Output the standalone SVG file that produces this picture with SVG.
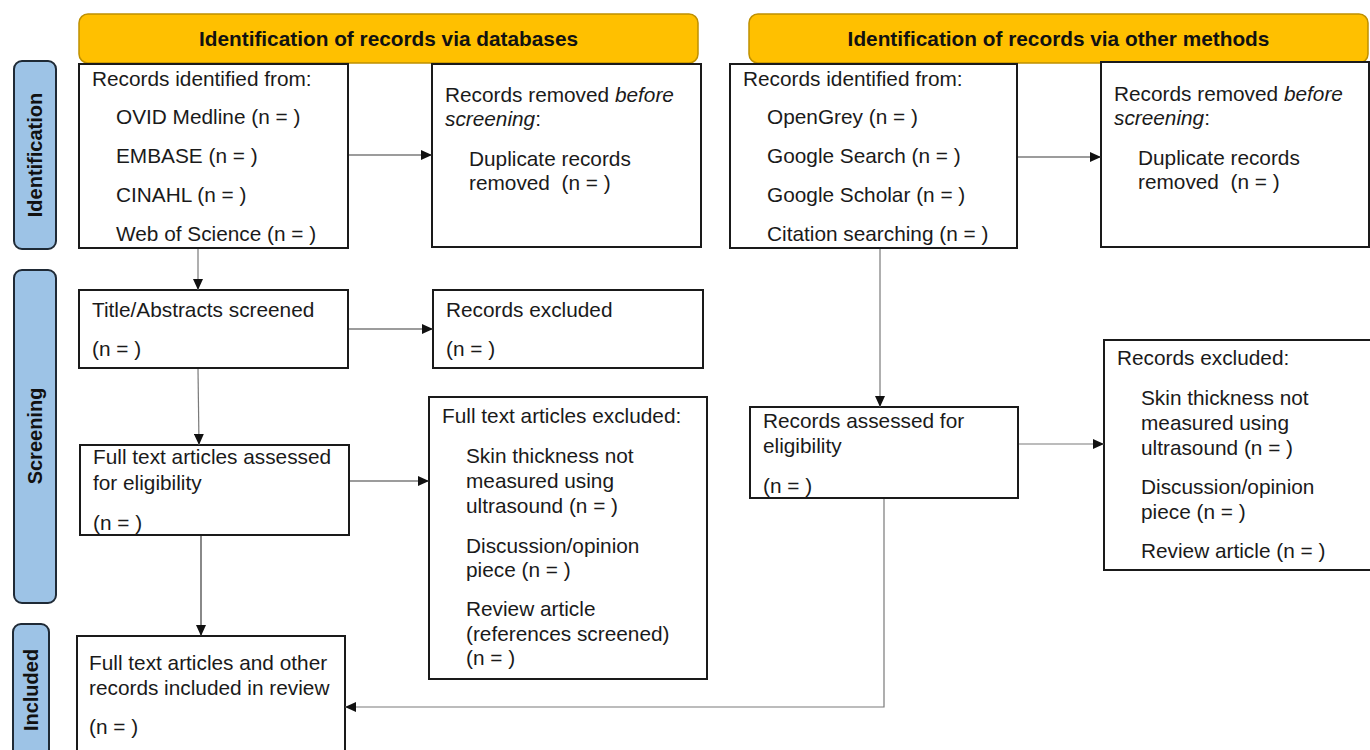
<svg xmlns="http://www.w3.org/2000/svg" width="1370" height="750" viewBox="0 0 1370 750">
<style>
.hdr{fill:#FFC000;stroke:#BF9000;stroke-width:1.5}
.side{fill:#9DC3E6;stroke:#1F2A36;stroke-width:2}
.box{fill:#fff;stroke:#1a1a1a;stroke-width:2}
text{font-family:"Liberation Sans",Arial,sans-serif;fill:#1a1a1a}
.t{font-size:20.8px}
.h{font-size:20.8px;font-weight:bold;text-anchor:middle;fill:#111}
.s{font-size:20px;font-weight:bold;text-anchor:middle;fill:#111}
.c{fill:none;stroke:#3a3a3a;stroke-width:1.2}
.g{fill:none;stroke:#7a7a7a;stroke-width:1.2}
</style>
<defs>
<marker id="ah" markerUnits="userSpaceOnUse" markerWidth="12" markerHeight="10" refX="11" refY="5" orient="auto">
<path d="M0,0 L11,5 L0,10 Z" fill="#111"/>
</marker>
</defs>

<g id="header-databases">
<rect class="hdr" x="79" y="14" width="619" height="49" rx="9"/>
<text class="h" x="388.5" y="46">Identification of records via databases</text>
</g>
<g id="header-other">
<rect class="hdr" x="749" y="14" width="619" height="49" rx="9"/>
<text class="h" x="1058.5" y="46">Identification of records via other methods</text>
</g>

<g id="label-identification">
<rect class="side" x="14" y="61" width="42" height="188" rx="8"/>
<text class="s" transform="translate(42,155) rotate(-90)">Identification</text>
</g>
<g id="label-screening">
<rect class="side" x="14" y="270" width="42" height="333" rx="8"/>
<text class="s" transform="translate(42,436) rotate(-90)">Screening</text>
</g>
<g id="label-included">
<rect class="side" x="13" y="624" width="36" height="146" rx="8"/>
<text class="s" transform="translate(38,690) rotate(-90)">Included</text>
</g>

<g id="db-identified">
<rect class="box" x="79" y="64" width="269" height="184"/>
<text class="t" x="92" y="86">Records identified from:</text>
<text class="t" x="116" y="124">OVID Medline (n = )</text>
<text class="t" x="116" y="163">EMBASE (n = )</text>
<text class="t" x="116" y="202">CINAHL (n = )</text>
<text class="t" x="116" y="241">Web of Science (n = )</text>
</g>
<g id="db-removed">
<rect class="box" x="432" y="64" width="269" height="183"/>
<text class="t" x="445" y="102">Records removed <tspan font-style="italic">before</tspan></text>
<text class="t" x="445" y="126"><tspan font-style="italic">screening</tspan>:</text>
<text class="t" x="469" y="166">Duplicate records</text>
<text class="t" x="469" y="190" xml:space="preserve">removed  (n = )</text>
</g>
<g id="other-identified">
<rect class="box" x="730" y="64" width="287" height="184"/>
<text class="t" x="743" y="86">Records identified from:</text>
<text class="t" x="767" y="124">OpenGrey (n = )</text>
<text class="t" x="767" y="163">Google Search (n = )</text>
<text class="t" x="767" y="202">Google Scholar (n = )</text>
<text class="t" x="767" y="241">Citation searching (n = )</text>
</g>
<g id="other-removed">
<rect class="box" x="1101" y="62" width="268" height="185"/>
<text class="t" x="1114" y="101">Records removed <tspan font-style="italic">before</tspan></text>
<text class="t" x="1114" y="125"><tspan font-style="italic">screening</tspan>:</text>
<text class="t" x="1138" y="165">Duplicate records</text>
<text class="t" x="1138" y="189" xml:space="preserve">removed  (n = )</text>
</g>

<g id="title-abstracts">
<rect class="box" x="79" y="290" width="269" height="78"/>
<text class="t" x="92" y="317">Title/Abstracts screened</text>
<text class="t" x="92" y="356">(n = )</text>
</g>
<g id="records-excluded">
<rect class="box" x="433" y="290" width="270" height="78"/>
<text class="t" x="446" y="317">Records excluded</text>
<text class="t" x="446" y="356">(n = )</text>
</g>
<g id="fulltext-assessed">
<rect class="box" x="80" y="445" width="269" height="90"/>
<text class="t" x="93" y="464">Full text articles assessed</text>
<text class="t" x="93" y="490">for eligibility</text>
<text class="t" x="93" y="530">(n = )</text>
</g>
<g id="fulltext-excluded">
<rect class="box" x="429" y="397" width="278" height="282"/>
<text class="t" x="442" y="423">Full text articles excluded:</text>
<text class="t" x="466" y="463">Skin thickness not</text>
<text class="t" x="466" y="488">measured using</text>
<text class="t" x="466" y="513">ultrasound (n = )</text>
<text class="t" x="466" y="553">Discussion/opinion</text>
<text class="t" x="466" y="577">piece (n = )</text>
<text class="t" x="466" y="616">Review article</text>
<text class="t" x="466" y="641">(references screened)</text>
<text class="t" x="466" y="665">(n = )</text>
</g>
<g id="other-assessed">
<rect class="box" x="750" y="407" width="268" height="91"/>
<text class="t" x="763" y="428">Records assessed for</text>
<text class="t" x="763" y="453">eligibility</text>
<text class="t" x="763" y="493">(n = )</text>
</g>
<g id="other-excluded">
<rect class="box" x="1104" y="340" width="270" height="230"/>
<text class="t" x="1117" y="365">Records excluded:</text>
<text class="t" x="1141" y="405">Skin thickness not</text>
<text class="t" x="1141" y="430">measured using</text>
<text class="t" x="1141" y="455">ultrasound (n = )</text>
<text class="t" x="1141" y="494">Discussion/opinion</text>
<text class="t" x="1141" y="519">piece (n = )</text>
<text class="t" x="1141" y="558">Review article (n = )</text>
</g>
<g id="included">
<rect class="box" x="77" y="636" width="268" height="130"/>
<text class="t" x="89" y="670">Full text articles and other</text>
<text class="t" x="89" y="695">records included in review</text>
<text class="t" x="89" y="734">(n = )</text>
</g>

<g id="connectors">
<line class="g" x1="198" y1="249" x2="198" y2="290" marker-end="url(#ah)"/>
<line class="c" x1="349" y1="155" x2="432" y2="155" marker-end="url(#ah)"/>
<line class="c" x1="1018" y1="157" x2="1101" y2="157" marker-end="url(#ah)"/>
<line class="c" x1="349" y1="329" x2="433" y2="329" marker-end="url(#ah)"/>
<line class="g" x1="198" y1="369" x2="199" y2="445" marker-end="url(#ah)"/>
<line class="c" x1="350" y1="481" x2="429" y2="481" marker-end="url(#ah)"/>
<line class="c" x1="201" y1="536" x2="201" y2="636" marker-end="url(#ah)"/>
<line class="g" x1="880" y1="249" x2="880" y2="407" marker-end="url(#ah)"/>
<line class="g" x1="1019" y1="444" x2="1104" y2="444" marker-end="url(#ah)"/>
<polyline class="g" points="884,499 884,707 345,707" marker-end="url(#ah)"/>
</g>
</svg>
